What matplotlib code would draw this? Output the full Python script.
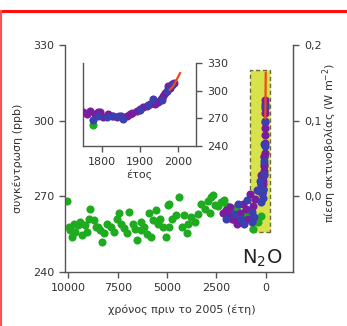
import matplotlib
matplotlib.use("Agg")
import matplotlib.pyplot as plt
from matplotlib.patches import Rectangle
from matplotlib.lines import Line2D
from matplotlib.ticker import FuncFormatter
import numpy as np

# ---------------- data ----------------
# green series (years before 2005, ppb)
green_t = [10050, 9950, 9900, 9810, 9730, 9650, 9490, 9400, 9300, 9150, 9050, 8950, 8880,
           8710, 8620, 8500, 8400, 8280, 8200, 8050, 7860, 7700, 7550, 7430, 7350, 7200,
           7010, 6920, 6750, 6600, 6500, 6330, 6330, 6150, 6000, 5900, 5820, 5700, 5560,
           5480, 5350, 5220, 5050, 4970, 4880, 4880, 4750, 4540, 4370, 4250, 4120, 3980,
           3950, 3800, 3600, 3450, 3270, 3100, 2950, 2840, 2760, 2670, 2590, 2400, 2250,
           2100, 1950, 1820, 1650, 1500, 1390, 1220, 1050, 850, 630, 400, 230]
green_c = [268.1, 258.0, 256.6, 253.9, 259.2, 256.0, 258.5, 260.0, 254.6, 258.5, 256.0, 261.0, 264.9,
           260.5, 257.9, 258.0, 256.5, 252.0, 255.3, 259.0, 257.9, 256.0, 261.0, 263.2, 259.2, 257.5,
           255.3, 263.8, 259.2, 257.0, 252.6, 256.6, 259.9, 258.0, 255.0, 263.2, 253.9, 260.5, 264.5,
           259.2, 261.0, 257.9, 253.9, 266.4, 267.1, 257.9, 261.0, 262.5, 269.7, 258.0, 262.5, 255.3,
           259.2, 262.0, 259.9, 263.0, 267.1, 265.0, 268.0, 263.2, 269.7, 270.4, 266.4, 266.0, 267.7,
           268.5, 266.0, 265.1, 264.5, 265.5, 266.4, 263.2, 262.0, 264.0, 257.2, 260.0, 262.3]

# purple series (years before 2005, ppb)
purple_t = [2160, 1990, 1900, 1820, 1735, 1735, 1565, 1450, 1310, 1140, 1000, 884, 800, 650,
            545, 350, 254, 245, 237, 223, 215, 210, 202, 190, 179, 166, 155, 140, 131, 125,
            114, 105, 96, 87, 79, 65, 57, 50, 44, 39, 35, 31, 27, 22, 17]
purple_c = [263.2, 264.5, 262.0, 265.8, 262.5, 261.2, 260.5, 259.0, 263.2, 267.1, 265.0, 261.2, 271.0, 266.0,
            269.1, 272.0, 276.6, 275.0, 278.3, 274.8, 277.0, 276.6, 271.3, 275.0, 273.0, 271.3, 272.5,
            273.0, 274.8, 276.0, 278.3, 280.0, 281.9, 283.0, 285.4, 286.0, 287.2, 291.0, 294.3,
            297.0, 299.6, 304.9, 303.0, 306.7, 308.0]

# blue series (years before 2005, ppb)
blue_t = [2000, 1600, 1390, 1250, 1100, 970, 714, 714, 580, 459, 300, 228, 215, 193, 175,
          160, 149, 105, 85, 70, 47, 33, 20]
blue_c = [261.0, 263.0, 267.1, 261.0, 259.0, 268.4, 263.8, 259.9, 262.0, 272.4, 276.0, 267.7, 273.0,
          271.3, 272.0, 273.0, 269.5, 279.0, 284.0, 290.7, 290.0, 300.0, 306.0]

# red line (instrumental record), calendar years and ppb
red_year = [1978, 1985, 1990, 1995, 2000, 2005]
red_c = [301.0, 304.0, 307.0, 311.0, 315.0, 319.0]

main_yticks = [240, 270, 300, 330]
main_xticks = [10000, 7500, 5000, 2500, 0]
rf_ticks = [0.0, 0.1, 0.2]
inset_xticks = [1800, 1900, 2000]
inset_yticks = [240, 270, 300, 330]

# zoom box (period shown in inset)
box_t = (800, -220)
box_c = (256.0, 320.0)

# ---------------- styling ----------------
GREEN = "#1fab1f"
PURPLE = "#7a1c9e"
BLUE = "#3b3fb0"
RED = "#ee4a1a"
YELLOW = "#d8e34c"
AXC = "#555555"
TXT = "#333333"
MS = 34

plt.rcParams['font.family'] = ['DejaVu Sans']
plt.rcParams['font.size'] = 8

fig = plt.figure(figsize=(3.47, 3.26), dpi=100)

ax = fig.add_axes([65 / 347, 1 - 272 / 326, 228 / 347, 227 / 326])
ax.set_xlim(10170, -1380)
ax.set_ylim(240, 330)

# yellow zoom box
ax.add_patch(Rectangle((box_t[1], box_c[0]), box_t[0] - box_t[1], box_c[1] - box_c[0],
                       facecolor=YELLOW, edgecolor="#6b6b3a", linestyle=(0, (3, 2)),
                       linewidth=1.0, zorder=1))

ax.scatter(green_t, green_c, s=MS, color=GREEN, linewidths=0, zorder=2)
ax.scatter(purple_t, purple_c, s=MS, color=PURPLE, linewidths=0, zorder=3)
ax.scatter(blue_t, blue_c, s=MS, color=BLUE, linewidths=0, zorder=4)
red_t = [2005 - y for y in red_year]
ax.plot(red_t, red_c, color=RED, lw=1.6, zorder=5)

ax.set_xticks(main_xticks)
ax.set_xticklabels([str(v) for v in main_xticks])
ax.set_yticks(main_yticks)
ax.spines["top"].set_visible(False)
for s in ["left", "bottom", "right"]:
    ax.spines[s].set_color(AXC)
    ax.spines[s].set_linewidth(1.0)
ax.tick_params(colors=AXC, labelcolor=TXT, length=4.5, width=1.0, labelsize=8)

ax.set_xlabel("χρόνος πριν το 2005 (έτη)", color=TXT, fontsize=8)
ax.xaxis.set_label_coords(0.513, -0.145)
ax.set_ylabel("συγκέντρωση (ppb)", color=TXT, fontsize=8)
ax.yaxis.set_label_coords(-0.183, 0.5)

ax.text(-820, 245.5, "N$_2$O", fontsize=14, color="#222222", ha="right", va="center", zorder=6)

# right axis: radiative forcing
ax2 = ax.twinx()
ax2.set_ylim((240 - 270) / 300, (330 - 270) / 300)
ax2.set_yticks(rf_ticks)
ax2.yaxis.set_major_formatter(FuncFormatter(lambda v, p: f"{v:.1f}".replace(".", ",")))
for s in ["top", "left", "bottom"]:
    ax2.spines[s].set_visible(False)
ax2.spines["right"].set_color(AXC)
ax2.tick_params(colors=AXC, labelcolor=TXT, length=4.5, width=1.0, labelsize=8)
ax2.set_ylabel("πίεση ακτινοβολίας (W m$^{-2}$)", color=TXT, fontsize=8)
ax2.yaxis.set_label_coords(1.122, 0.57)

# ---------------- inset ----------------
axi = fig.add_axes([83 / 347, 1 - 146 / 326, 113 / 347, 83 / 326])
axi.set_facecolor("white")
axi.set_xlim(1750, 2047)
axi.set_ylim(240, 330)
axi.scatter([2005 - t for t in green_t], green_c, s=MS, color=GREEN, linewidths=0, zorder=2)
axi.scatter([2005 - t for t in purple_t], purple_c, s=MS, color=PURPLE, linewidths=0, zorder=3)
axi.scatter([2005 - t for t in blue_t], blue_c, s=MS, color=BLUE, linewidths=0, zorder=4)
axi.plot(red_year, red_c, color=RED, lw=1.6, zorder=5)
axi.set_xticks(inset_xticks)
axi.set_yticks(inset_yticks)
axi.yaxis.tick_right()
axi.spines["top"].set_visible(False)
for s in ["left", "bottom", "right"]:
    axi.spines[s].set_color(AXC)
    axi.spines[s].set_linewidth(1.0)
axi.tick_params(colors=AXC, labelcolor=TXT, length=4.5, width=1.0, labelsize=8)
axi.set_xlabel("έτος", color=TXT, fontsize=8, labelpad=2)

# red frame
fig.add_artist(Line2D([0.0, 1.0], [1 - 10.5 / 326, 1 - 10.5 / 326], transform=fig.transFigure,
                      color="#ff1010", lw=2.2))
fig.add_artist(Line2D([0.6 / 347, 0.6 / 347], [0.0, 1 - 10.5 / 326], transform=fig.transFigure,
                      color="#ff5050", lw=1.5))

fig.savefig("out.png", dpi=100)
